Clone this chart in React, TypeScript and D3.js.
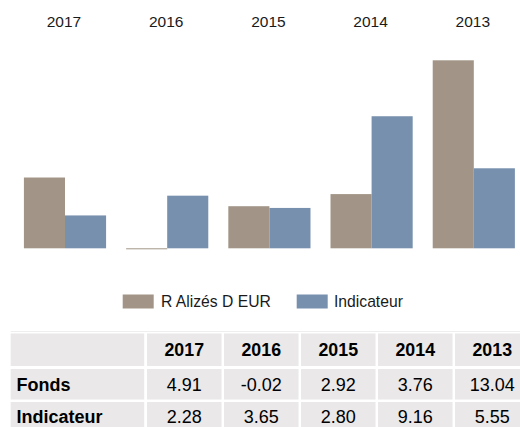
import React from "react";
import * as d3 from "d3";

const years = ["2017", "2016", "2015", "2014", "2013"];
const fondsValues = [4.91, -0.02, 2.92, 3.76, 13.04];
const indicValues = [2.28, 3.65, 2.8, 9.16, 5.55];
const seriesNames = ["R Alizés D EUR", "Indicateur"];
const rowLabels = ["Fonds", "Indicateur"];

const W = 520;
const H = 427;
const COL_FONDS = "#a29587";
const COL_IND = "#7790ad";
const CELL = "#eae8e9";
const FONT = "'Liberation Sans', Arial, Helvetica, sans-serif";

export default function App() {
  const x = d3
    .scaleBand<string>()
    .domain(years)
    .range([13.9, 524.9])
    .paddingInner(0.196)
    .paddingOuter(0.098);
  const inner = d3
    .scaleBand<string>()
    .domain(["f", "i"])
    .range([0, x.bandwidth()]);
  const y = d3.scaleLinear().domain([0, 13.04]).range([248.3, 60.3]);

  const bar = (v: number) => {
    const y0 = y(0);
    const y1 = y(v);
    return { y: Math.min(y0, y1), h: Math.max(Math.abs(y1 - y0), 1) };
  };

  const firstColX = 10.7;
  const firstColW = 133.5;
  const colX = d3.scaleLinear().domain([0, 1]).range([147, 224]);
  const colW = 74.5;
  const rows = [
    { y: 333.5, h: 32.5, base: 355.5 },
    { y: 369, h: 30.5, base: 391 },
    { y: 402, h: 30, base: 423 },
  ];
  const tableRows = [fondsValues, indicValues];

  return (
    <svg
      width={W}
      height={H}
      style={{ position: "absolute", left: 0, top: 0, display: "block" }}
      fontFamily={FONT}
    >
      <rect x={0} y={0} width={W} height={H} fill="#fff" />
      {years.map((yr, i) => {
        const gx = x(yr)!;
        const bf = bar(fondsValues[i]);
        const bi = bar(indicValues[i]);
        return (
          <g key={yr}>
            <text
              x={gx + x.bandwidth() / 2 - 1}
              y={27}
              textAnchor="middle"
              fontSize={15.5}
              fill="#1a1a1a"
            >
              {yr}
            </text>
            <rect
              x={gx + inner("f")!}
              y={bf.y}
              width={inner.bandwidth()}
              height={bf.h}
              fill={COL_FONDS}
            />
            <rect
              x={gx + inner("i")!}
              y={bi.y}
              width={inner.bandwidth()}
              height={bi.h}
              fill={COL_IND}
            />
          </g>
        );
      })}

      {/* legend */}
      <rect x={122.7} y={294.5} width={31} height={14} fill={COL_FONDS} />
      <text x={161} y={306.5} fontSize={15.7} fill="#1a1a1a">
        {seriesNames[0]}
      </text>
      <rect x={296.7} y={294.5} width={31} height={14} fill={COL_IND} />
      <text x={334} y={306.5} fontSize={15.7} fill="#1a1a1a">
        {seriesNames[1]}
      </text>

      {/* table */}
      <line x1={10.7} x2={530} y1={331.5} y2={331.5} stroke="#eeeeee" strokeWidth={1} />
      {rows.map((r, ri) => (
        <g key={ri}>
          <rect x={firstColX} y={r.y} width={firstColW} height={r.h} fill={CELL} />
          {years.map((yr, ci) => (
            <rect key={yr} x={colX(ci)} y={r.y} width={colW} height={r.h} fill={CELL} />
          ))}
        </g>
      ))}
      {years.map((yr, ci) => (
        <text
          key={yr}
          x={colX(ci) + colW / 2}
          y={rows[0].base}
          textAnchor="middle"
          fontSize={17.8}
          fontWeight="bold"
          fill="#000"
        >
          {yr}
        </text>
      ))}
      {tableRows.map((vals, ri) => (
        <g key={ri}>
          <text
            x={16.5}
            y={rows[ri + 1].base}
            fontSize={18}
            fontWeight="bold"
            fill="#000"
          >
            {rowLabels[ri]}
          </text>
          {vals.map((v, ci) => (
            <text
              key={ci}
              x={colX(ci) + colW / 2}
              y={rows[ri + 1].base}
              textAnchor="middle"
              fontSize={18}
              fill="#000"
            >
              {v.toFixed(2)}
            </text>
          ))}
        </g>
      ))}
    </svg>
  );
}
